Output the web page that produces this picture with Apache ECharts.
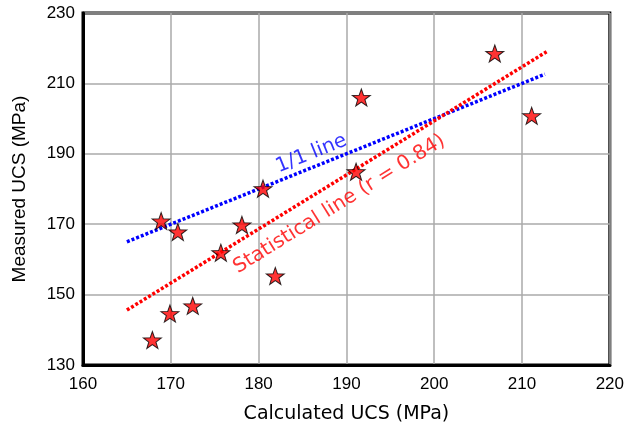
<!DOCTYPE html>
<html>
<head>
<meta charset="utf-8">
<script src="https://cdn.jsdelivr.net/npm/echarts@6/dist/echarts.min.js"></script>
<style>
  html, body { margin: 0; padding: 0; background: #fff; }
  #chart { width: 627px; height: 429px; }
</style>
</head>
<body>
<div id="chart"></div>
<script>
// measured points [calculated, measured]
const calculatedUCS = [167.9, 169.9, 172.5, 168.9, 170.8, 175.7, 178.1, 181.9, 180.5, 191.1, 191.7, 206.9, 211.1]
const measuredUCS = [137.1, 144.6, 146.8, 170.9, 167.8, 161.9, 169.8, 155.3, 180.1, 184.9, 206.0, 218.5, 200.8]

// reference lines (end points)
const oneToOneLine = [[165, 165], [212.6, 212.6]]
const statLine = [[165, 145.6], [212.8, 219]]

const xTicks = [160, 170, 180, 190, 200, 210, 220]
const yTicks = [130, 150, 170, 190, 210, 230]

const starPath = 'path://M50 0L61.76 33.82L97.55 34.55L69.02 56.18L79.39 90.45L50 70L20.61 90.45L30.98 56.18L2.45 34.55L38.24 33.82Z'
const comic = '"Comic Sans MS", "DejaVu Sans", sans-serif'
const arial = '"Liberation Sans", Arial, sans-serif'

const myChart = echarts.init(document.getElementById('chart'))

const option = {
  backgroundColor: '#fff',
  animation: false,
  grid: {
    left: 83,
    right: 14,
    top: 13,
    bottom: 64,
    show: true,
    borderColor: '#000',
    borderWidth: 3,
  },
  xAxis: {
    type: 'value',
    min: xTicks[0],
    max: xTicks[xTicks.length - 1],
    interval: 10,
    name: 'Calculated UCS (MPa)',
    nameLocation: 'middle',
    nameGap: 40,
    nameTextStyle: { fontFamily: comic, fontSize: 19, color: '#000' },
    axisLine: { show: true, lineStyle: { color: '#000', width: 3 } },
    axisTick: { show: false },
    axisLabel: { color: '#000', fontSize: 17, fontFamily: arial, margin: 11 },
    splitLine: { show: true, lineStyle: { color: '#aaa', width: 1.5 } },
  },
  yAxis: {
    type: 'value',
    min: yTicks[0],
    max: yTicks[yTicks.length - 1],
    interval: 20,
    name: 'Measured UCS (MPa)',
    nameLocation: 'middle',
    nameGap: 54,
    nameTextStyle: { fontFamily: arial, fontSize: 19, color: '#000' },
    axisLine: { show: true, lineStyle: { color: '#000', width: 3 } },
    axisTick: { show: false },
    axisLabel: { color: '#000', fontSize: 17, fontFamily: arial, margin: 8 },
    splitLine: { show: true, lineStyle: { color: '#aaa', width: 1.5 } },
  },
  series: [
    {
      name: '1/1 line',
      type: 'line',
      data: oneToOneLine,
      symbol: 'none',
      lineStyle: { color: '#0000ff', width: 3.5, type: [3, 2] },
      z: 2,
    },
    {
      name: 'Statistical line',
      type: 'line',
      data: statLine,
      symbol: 'none',
      lineStyle: { color: '#ff0000', width: 3.5, type: [3, 2] },
      z: 2,
    },
    {
      name: 'UCS',
      type: 'scatter',
      data: calculatedUCS.map((x, i) => [x, measuredUCS[i]]),
      symbol: starPath,
      symbolSize: [18, 17],
      itemStyle: { color: '#ff0000', borderColor: '#000', borderWidth: 1 },
      z: 5,
    },
    // 标注文字
    {
      type: 'scatter',
      data: [[186.0, 190.0]],
      symbolSize: 0,
      silent: true,
      label: {
        show: true,
        position: 'inside',
        formatter: '1/1 line',
        rotate: 22,
        color: '#0000ff',
        fontSize: 20,
        fontFamily: comic,
      },
      z: 6,
    },
    {
      type: 'scatter',
      data: [[189.2, 175.7]],
      symbolSize: 0,
      silent: true,
      label: {
        show: true,
        position: 'inside',
        formatter: 'Statistical line (r = 0.84)',
        rotate: 32,
        color: '#ff0000',
        fontSize: 20,
        fontFamily: comic,
      },
      z: 6,
    },
  ],
}

myChart.setOption(option)
</script>
</body>
</html>
